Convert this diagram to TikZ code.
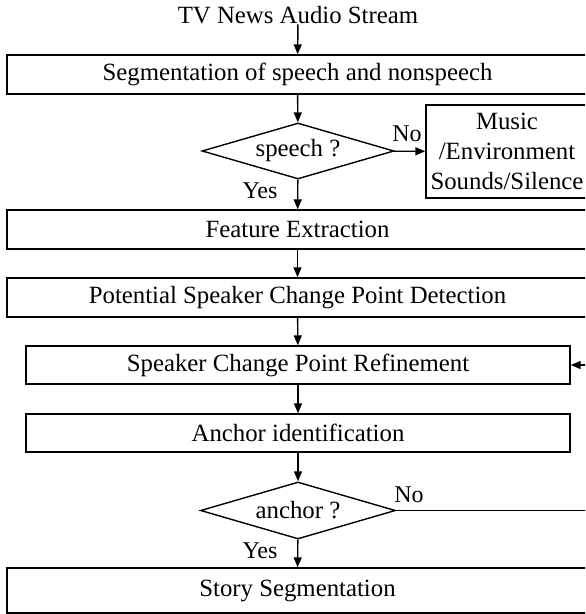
\documentclass[tikz,border=0pt]{standalone}
\usepackage{fontspec}
\setmainfont{Liberation Serif}
\usepackage{tikz}
\usetikzlibrary{shapes.geometric, arrows.meta}

\tikzset{
  box/.style={draw, inner sep=0pt, align=center},
  decision/.style={draw, diamond, inner sep=0pt, aspect=3.4},
  yesno/.style={font=\fontsize{12}{14}\selectfont, inner sep=0pt}
}

\begin{document}
\begin{tikzpicture}[x=0.5pt, y=-0.5pt, line width=0.7pt,
    >={Triangle[length=5pt, width=4pt]},
    every node/.append style={font=\fontsize{12.4}{15}\selectfont}]
        \path[use as bounding box, clip] (0,0) rectangle (585,614);

        % Input and first stage
        \node[inner sep=0pt] (input) at (298,15) {TV News Audio Stream};
        \node[box, minimum width=290.5pt, minimum height=19.5pt] (seg) at (297.5,74.5) {Segmentation of speech and nonspeech};

        % Speech / nonspeech decision
        \node[decision, minimum width=96pt, minimum height=28pt] (speech) at (298,151) {speech ?};
        \node[box, minimum width=81pt, minimum height=46.5pt] (music) at (507,151.5) {Music\\/Environment\\Sounds/Silence};

        % Processing chain
        \node[box, minimum width=290.5pt, minimum height=19.5pt] (feat) at (297.5,229.5) {Feature Extraction};
        \node[box, minimum width=290.5pt, minimum height=19.5pt] (detect) at (297.5,297.5) {Potential Speaker Change Point Detection};
        \node[box, minimum width=272pt, minimum height=19pt] (refine) at (298,365) {Speaker Change Point Refinement};
        \node[box, minimum width=272pt, minimum height=19pt] (anchorid) at (298,433) {Anchor identification};

        % Anchor decision and output
        \node[decision, minimum width=97.5pt, minimum height=28.5pt] (anchor) at (298,510.5) {anchor ?};
        \node[box, minimum width=290.5pt, minimum height=22.5pt] (story) at (297.5,590.5) {Story Segmentation};

        % Branch labels
        \node[yesno] (speechno) at (407,134) {No};
        \node[yesno] (speechyes) at (260,191) {Yes};
        \node[yesno] (anchorno) at (409,495) {No};
        \node[yesno] (anchoryes) at (260,551) {Yes};

        % Arrows
        \draw[->] (input) -- (seg);
        \draw[->] (seg) -- (speech);
        \draw[->] (speech) -- (music);
        \draw[->] (speech) -- (feat);
        \draw[->] (feat) -- (detect);
        \draw[->] (detect) -- (refine);
        \draw[->] (refine) -- (anchorid);
        \draw[->] (anchorid) -- (anchor);
        \draw[->] (anchor) -- (story);

        % Loop back to refinement
        \coordinate (back) at (598,510.5);
        \draw[->] (anchor.east) -- (back) |- (refine.east);
    \end{tikzpicture}
\end{document}
